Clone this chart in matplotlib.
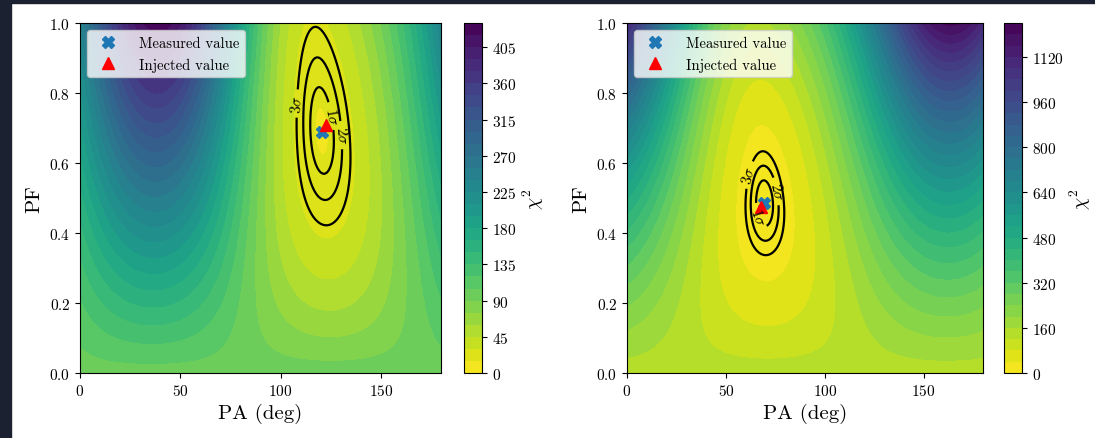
import matplotlib
matplotlib.use("Agg")
import matplotlib.pyplot as plt
import numpy as np
from matplotlib.patches import Rectangle

plt.rcParams["font.family"] = "serif"
plt.rcParams["font.serif"] = ["cmr10", "DejaVu Serif"]
plt.rcParams["mathtext.fontset"] = "cm"
plt.rcParams["axes.formatter.use_mathtext"] = True
plt.rcParams["axes.unicode_minus"] = False

# best fit / injected values
pa_meas = [120.5, 69.5]
pf_meas = [0.69, 0.485]
pa_inj = [122.5, 68.0]
pf_inj = [0.71, 0.475]

# chi2 surface parameters: minimum, curvature in the Q-U plane
# (radial, cross, tangential) and growth of the variance with PF
chi2_min = [14.3, 13.0]
curv_rad = [176.0, 540.0]
curv_cross = [31.0, 37.0]
curv_tan = [134.0, 440.0]
var_growth = [0.25, 0.0]

# filled-contour levels and sigma contours (delta chi2 for 2 params)
level_step = [15, 40]
level_top = [435, 1240]
delta_chi2 = [2.30, 6.18, 11.83]
sigma_names = [r"$1\sigma$", r"$2\sigma$", r"$3\sigma$"]
label_pos = [
    [(126.0, 0.735), (131.5, 0.68), (108.0, 0.77)],
    [(65.5, 0.445), (76.5, 0.52), (62.5, 0.565)],
]

pa_grid = np.linspace(0, 180, 361)
pf_grid = np.linspace(0, 1, 251)


def chi2_map(i):
    pa, pf = np.meshgrid(pa_grid, pf_grid)
    ang0 = np.deg2rad(2 * pa_meas[i])
    q = pf * np.exp(1j * np.deg2rad(2 * pa))
    q0 = pf_meas[i] * np.exp(1j * ang0)
    d = (q - q0) * np.exp(-1j * ang0)
    r, t = d.real, d.imag
    quad = curv_rad[i] * r**2 + 2 * curv_cross[i] * r * t + curv_tan[i] * t**2
    return chi2_min[i] + quad / (1 + var_growth[i] * pf**2)


fig = plt.figure(figsize=(10.95, 4.39), dpi=100)
W, H = 1095, 439
ax_boxes = [(80, 361, 464), (627, 356, 1004)]

for i, (x0, w, cx) in enumerate(ax_boxes):
    ax = fig.add_axes([x0 / W, 65 / H, w / W, 350 / H])
    cax = fig.add_axes([cx / W, 65 / H, 18 / W, 350 / H])
    z = chi2_map(i)
    levels = np.arange(0, level_top[i] + 1, level_step[i])
    cf = ax.contourf(pa_grid, pf_grid, z, levels=levels, cmap="viridis_r")
    sig_levels = [z.min() + d for d in delta_chi2]
    cs = ax.contour(pa_grid, pf_grid, z, levels=sig_levels, colors="black", linewidths=1.6)
    ax.clabel(cs, fmt=dict(zip(cs.levels, sigma_names)), manual=label_pos[i],
              inline=True, fontsize=11)
    ax.plot(pa_meas[i], pf_meas[i], "X", color="#1f77b4", ms=8, ls="none",
            label="Measured value")
    ax.plot(pa_inj[i], pf_inj[i], "^", color="red", ms=8, ls="none",
            label="Injected value")
    ax.set_xlim(0, 180)
    ax.set_ylim(0, 1)
    ax.set_xticks([0, 50, 100, 150])
    ax.set_yticks([0.0, 0.2, 0.4, 0.6, 0.8, 1.0])
    ax.tick_params(labelsize=11)
    ax.set_xlabel("PA (deg)", fontsize=15)
    ax.set_ylabel("PF", fontsize=15)
    ax.legend(loc="upper left", fontsize=10.6, handletextpad=1.1)
    cb = fig.colorbar(cf, cax=cax)
    cb.ax.tick_params(labelsize=11)
    cb.set_label(r"$\chi^2$", fontsize=14, labelpad=3)

# dark screenshot frame
dark = "#1b2130"
fig.add_artist(Rectangle((0, 0), 11 / W, 1, transform=fig.transFigure, color=dark, zorder=10))
fig.add_artist(Rectangle((0, 1 - 4 / H), 1, 4 / H, transform=fig.transFigure, color=dark, zorder=10))

fig.savefig("out.png", dpi=100)
